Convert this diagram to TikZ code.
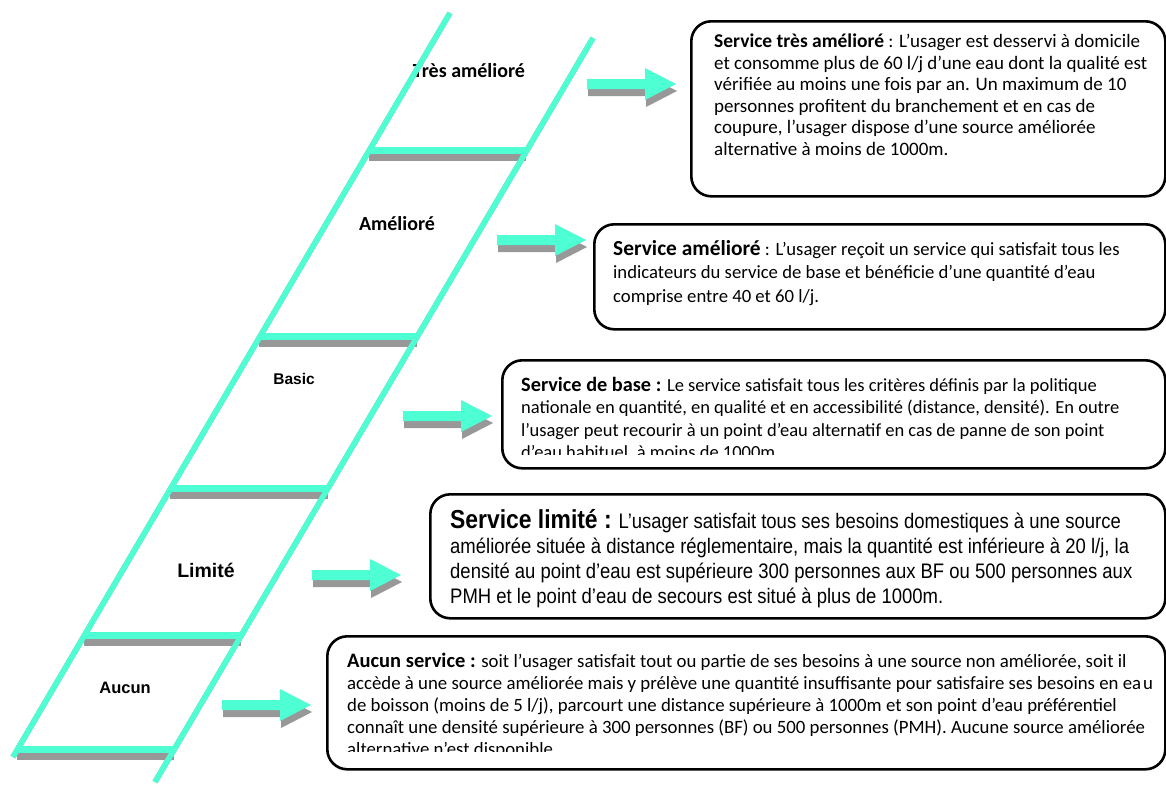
\documentclass[tikz,border=0pt]{standalone}
\usepackage{fontspec}
\setmainfont{Carlito}
\newfontfamily\calfont{Carlito}
\newfontfamily\arlfont{Liberation Sans}
\newfontfamily\arlnarrow[FakeStretch=0.88]{Liberation Sans}
\definecolor{aqua}{RGB}{77,255,210}
\definecolor{shadowgray}{RGB}{152,152,152}
\newcommand\blockarrow[4]{% name, tail x, centre y, colour
  \fill[#4] (#2,#3-5) -- (#2+58,#3-5) -- (#2+58,#3-16) -- (#2+89,#3)
    -- (#2+58,#3+16) -- (#2+58,#3+5) -- (#2,#3+5) -- cycle;}
\begin{document}
\begin{tikzpicture}[x=1pt,y=-1pt,
  railline/.style={line width=5.5pt,line cap=butt},
  rungline/.style={line width=7pt,line cap=butt},
  infobox/.style={draw=black,line width=2.6pt,rounded corners=20pt,anchor=north west,inner sep=0pt,fill=none},
  desc/.style={anchor=base west,align=left,inner sep=0pt},
  lab/.style={inner sep=0pt,anchor=base}
]
\useasboundingbox (0,0) rectangle (1166,787);

% ladder labels (drawn first, the rail overlaps the T)
\node[lab,font={\calfont\bfseries\fontsize{20}{24}\selectfont}] (l1) at (469,77) {Très amélioré};
\node[lab,font={\calfont\bfseries\fontsize{20}{24}\selectfont}] (l2) at (397,230) {Amélioré};
\node[lab,font={\arlfont\bfseries\fontsize{15.5}{18}\selectfont}] (l3) at (294,384) {Basic};
\node[lab,font={\arlfont\bfseries\fontsize{19.5}{22}\selectfont}] (l4) at (206,577) {Limité};
\node[lab,font={\arlfont\bfseries\fontsize{16.5}{20}\selectfont}] (l5) at (125,693) {Aucun};

% ladder geometry
\coordinate (LT) at (450,13);
\coordinate (LB) at (13,757);
\coordinate (RT) at (593,38);
\coordinate (RB) at (155,782);

% shadows
\begin{scope}[shift={(-1,7)},shadowgray]
  \draw[railline] (LT) -- (LB);
  \draw[railline] (RT) -- (RB);
  \draw[rungline] (369.5,150) -- (527,150);
  \draw[rungline] (260,336.5) -- (417.5,336.5);
  \draw[rungline] (171,488) -- (328.5,488);
  \draw[rungline] (84.5,635) -- (242,635);
  \draw[rungline] (17.5,749) -- (175,749);
\end{scope}
\begin{scope}[shift={(1,7)}]
  \blockarrow{a1}{587}{84}{shadowgray}
  \blockarrow{a2}{497}{240}{shadowgray}
  \blockarrow{a3}{403}{416}{shadowgray}
  \blockarrow{a4}{312}{575}{shadowgray}
  \blockarrow{a5}{222}{705}{shadowgray}
\end{scope}
% ladder
\begin{scope}[aqua]
  \draw[rungline] (369.5,150) -- (527,150);
  \draw[rungline] (260,336.5) -- (417.5,336.5);
  \draw[rungline] (171,488) -- (328.5,488);
  \draw[rungline] (84.5,635) -- (242,635);
  \draw[rungline] (17.5,749) -- (175,749);
  \draw[railline] (LT) -- (LB);
  \draw[railline] (RT) -- (RB);
\end{scope}
% arrows
\blockarrow{a1}{587}{84}{aqua}
\blockarrow{a2}{497}{240}{aqua}
\blockarrow{a3}{403}{416}{aqua}
\blockarrow{a4}{312}{575}{aqua}
\blockarrow{a5}{222}{705}{aqua}

% boxes
\node[infobox,minimum width=474pt,minimum height=175pt] (b1) at (690,20) {};
\node[infobox,minimum width=571pt,minimum height=105pt] (b2) at (593,223) {};
\node[infobox,minimum width=663pt,minimum height=108pt] (b3) at (501,359) {};
\node[infobox,minimum width=735pt,minimum height=124pt] (b4) at (429,493) {};
\node[infobox,minimum width=838pt,minimum height=133pt] (b5) at (326,635) {};

% texts (anchored at the baseline of their last line)
\node[desc,font={\calfont\fontsize{19}{21.5}\selectfont}] (t1) at (714,155)
{{\bfseries\fontsize{19.5}{21.5}\selectfont Service très amélioré} : L’usager est desservi à domicile\\
et consomme plus de 60 l/j d’une eau dont la qualité est\\
vérifiée au moins une fois par an. Un maximum de 10\\
personnes profitent du branchement et en cas de\\
coupure, l’usager dispose d’une source améliorée\\
alternative à moins de 1000m.};

\node[desc,font={\calfont\fontsize{18.7}{23.3}\selectfont}] (t2) at (613,302)
{{\bfseries\fontsize{21.4}{23.3}\selectfont Service amélioré} : L’usager reçoit un service qui satisfait tous les\\
indicateurs du service de base et bénéficie d’une quantité d’eau\\
comprise entre 40 et 60 l/j.};

\begin{scope}
\clip (505,362) rectangle (1160,454);
\node[desc,font={\calfont\fontsize{18.5}{22.5}\selectfont}] (t3) at (521,458.5)
{{\bfseries\fontsize{20.3}{22.5}\selectfont Service de base :} Le service satisfait tous les critères définis par la politique\\
nationale en quantité, en qualité et en accessibilité (distance, densité). En outre\\
l’usager peut recourir à un point d’eau alternatif en cas de panne de son point\\
d’eau habituel, à moins de 1000m.};
\end{scope}

\node[desc,font={\arlnarrow\fontsize{21}{25}\selectfont}] (t4) at (450,603)
{{\bfseries\fontsize{26}{25}\selectfont Service limité :} L’usager satisfait tous ses besoins domestiques à une source\\
améliorée située à distance réglementaire, mais la quantité est inférieure à 20 l/j, la\\
densité au point d’eau est supérieure 300 personnes aux BF ou 500 personnes aux\\
PMH et le point d’eau de secours est situé à plus de 1000m.};

\begin{scope}
\clip (330,640) rectangle (1160,751);
\node[desc,font={\calfont\fontsize{18.8}{22}\selectfont}] (t5) at (347,755)
{{\bfseries\fontsize{20.5}{22}\selectfont Aucun service :} soit l’usager satisfait tout ou partie de ses besoins à une source non améliorée, soit il\\
accède à une source améliorée mais y prélève une quantité insuffisante pour satisfaire ses besoins en ea\hspace{2pt}u\\
de boisson (moins de 5 l/j), parcourt une distance supérieure à 1000m et son point d’eau préférentiel\\
connaît une densité supérieure à 300 personnes (BF) ou 500 personnes (PMH). Aucune source améliorée\\
alternative n’est disponible.};
\end{scope}
\end{tikzpicture}
\end{document}
